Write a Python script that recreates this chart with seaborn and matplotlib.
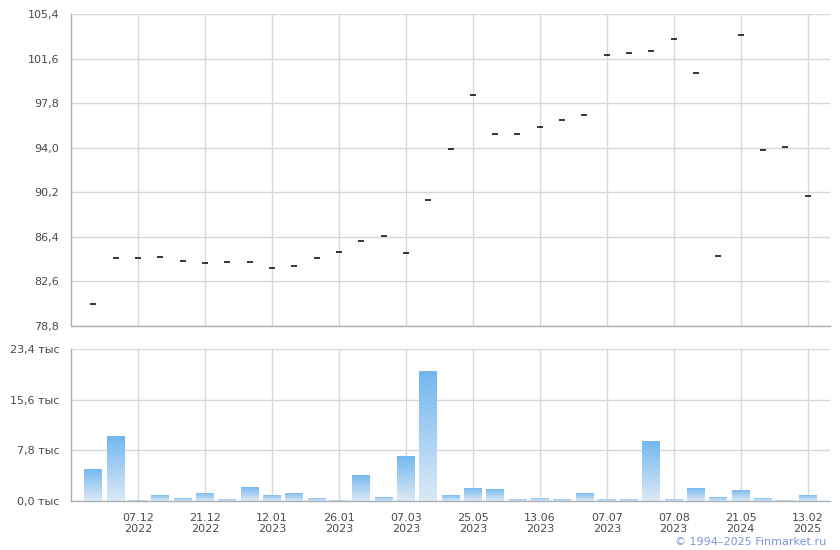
import numpy as np
import pandas as pd
import matplotlib
matplotlib.use('Agg')
import matplotlib.pyplot as plt
from matplotlib.colors import LinearSegmentedColormap
import seaborn as sns

# Prices (one per trading day shown) and volumes in thousands
prices = [80.68, 84.57, 84.57, 84.66, 84.32, 84.15, 84.23, 84.23, 83.75, 83.89,
          84.57, 85.08, 86.02, 86.45, 84.99, 89.52, 93.87, 98.47, 95.15, 95.15,
          95.74, 96.34, 96.76, 101.88, 102.05, 102.22, 103.24, 100.34, 84.74, 103.58,
          93.78, 94.04, 89.86]
volumes = [4.95, 10.0, 0.2, 0.97, 0.5, 1.28, 0.35, 2.2, 0.97, 1.28,
           0.5, 0.2, 4.04, 0.66, 6.96, 20.0, 0.97, 2.05, 1.9, 0.35,
           0.5, 0.35, 1.28, 0.35, 0.35, 9.25, 0.35, 2.05, 0.66, 1.74,
           0.5, 0.2, 0.97]
tick_labels = ['07.12\n2022', '21.12\n2022', '12.01\n2023', '26.01\n2023', '07.03\n2023',
               '25.05\n2023', '13.06\n2023', '07.07\n2023', '07.08\n2023', '21.05\n2024',
               '13.02\n2025']
price_ticks = [78.8, 82.6, 86.4, 90.2, 94.0, 97.8, 101.6, 105.4]
vol_ticks = [0.0, 7.8, 15.6, 23.4]

df = pd.DataFrame({'idx': np.arange(len(prices)), 'price': prices, 'volume': volumes})

sns.set_style('white')
plt.rcParams['font.family'] = ['DejaVu Sans']

grid_col = '#d3d8dc'
axis_col = '#a9b0b7'
text_col = '#4a4a4a'
tick_pos = np.arange(2, len(prices), 3)

fig = plt.figure(figsize=(8.4, 5.5), dpi=100)
ax1 = fig.add_axes([71/840, 1 - 326/550, 759/840, 312/550])
ax2 = fig.add_axes([71/840, 1 - 501/550, 759/840, 152/550])

# price panel: short dashes, one per day
sns.scatterplot(data=df, x='idx', y='price', marker='_', s=22, color='black',
                linewidth=1.1, ax=ax1, zorder=3)
ax1.set_ylim(78.8, 105.4)
ax1.set_yticks(price_ticks)
ax1.set_yticklabels([f'{v:.1f}'.replace('.', ',') for v in price_ticks])

# volume panel
sns.barplot(data=df, x='idx', y='volume', width=0.8, color='#8cc4f0',
            native_scale=True, ax=ax2, zorder=2)
ax2.set_ylim(0, 23.4)
ax2.set_yticks(vol_ticks)
ax2.set_yticklabels([f'{v:.1f}'.replace('.', ',') + ' тыс' for v in vol_ticks])

# vertical gradient in each bar
cmap = LinearSegmentedColormap.from_list('vol', ['#dde9f6', '#72b7ee'])
grad = np.linspace(0, 1, 256).reshape(-1, 1)
for bar in list(ax2.patches):
    x0, y0 = bar.get_x(), bar.get_y()
    w, h = bar.get_width(), bar.get_height()
    img = ax2.imshow(grad, cmap=cmap, origin='lower', aspect='auto',
                     extent=[x0, x0 + w, y0, y0 + h], zorder=2.5)
    img.set_clip_path(bar)
    bar.set_alpha(0)

for ax in (ax1, ax2):
    ax.set_xlim(-1, 33)
    ax.set_xticks(tick_pos)
    ax.grid(True, color=grid_col, linewidth=1)
    ax.set_axisbelow(True)
    ax.set_xlabel('')
    ax.set_ylabel('')
    for s in ('top', 'right'):
        ax.spines[s].set_visible(False)
    for s in ('left', 'bottom'):
        ax.spines[s].set_color(axis_col)
        ax.spines[s].set_linewidth(1)
    ax.tick_params(axis='both', colors=axis_col, labelcolor=text_col, labelsize=8,
                   length=5, width=1)

ax1.set_xticklabels([])
ax2.set_xticklabels(tick_labels)

fig.text(826/840, 1 - 542/550, '© 1994–2025 Finmarket.ru', color='#7b95dc',
         fontsize=8, ha='right', va='center')

fig.savefig('out.png', dpi=100)
